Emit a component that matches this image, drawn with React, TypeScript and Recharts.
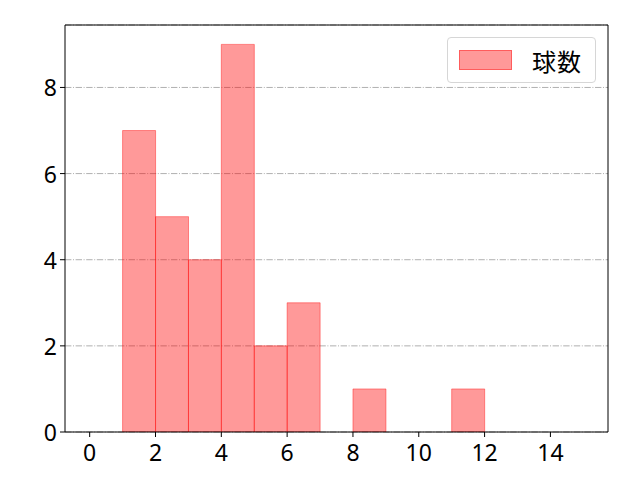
import React from 'react';
import { ComposedChart, Bar, XAxis, YAxis, CartesianGrid, Legend, ReferenceLine } from 'recharts';

// histogram bins (unit width, starting at each value) and the counts in them
const binStarts = [0, 1, 2, 3, 4, 5, 6, 7, 8, 9, 10, 11, 12, 13, 14];
const counts = [0, 7, 5, 4, 9, 2, 3, 0, 1, 0, 0, 1, 0, 0, 0];
const xTicks = [0, 2, 4, 6, 8, 10, 12, 14];
const yTicks = [0, 2, 4, 6, 8];
const seriesName = '球数';

const X_DOMAIN: [number, number] = [-0.75, 15.75];
const Y_DOMAIN: [number, number] = [0, 9.45];

const data = binStarts.map((s, i) => ({ mid: s + 0.5, count: counts[i] }));

const FONT = '"Noto Sans", "Noto Sans CJK JP", sans-serif';
const CJK_FONT = '"Noto Sans CJK JP", "Noto Sans", sans-serif';
const TICK_SIZE = 23;

const XTick = (props: any) => {
  const { x, y, payload } = props;
  return (
    <text x={x} y={y + 4} textAnchor="middle" dominantBaseline="hanging" fill="#000" fontSize={TICK_SIZE} fontFamily={FONT}>
      {payload.value}
    </text>
  );
};

const YTick = (props: any) => {
  const { x, y, payload } = props;
  return (
    <text x={x - 3} y={y} textAnchor="end" dominantBaseline="central" fill="#000" fontSize={TICK_SIZE} fontFamily={FONT}>
      {payload.value}
    </text>
  );
};

const LegendBox = () => (
  <div
    style={{
      width: 149,
      height: 46,
      boxSizing: 'border-box',
      border: '1px solid #d6d6d6',
      borderRadius: 4,
      background: 'rgba(255,255,255,0.8)',
      display: 'flex',
      alignItems: 'center',
      fontFamily: CJK_FONT,
      fontSize: 24,
      letterSpacing: 1,
      color: '#000',
    }}
  >
    <div
      style={{
        marginLeft: 11,
        width: 53,
        height: 20,
        boxSizing: 'border-box',
        background: 'rgba(255,0,0,0.4)',
        border: '1px solid rgba(255,0,0,0.4)',
      }}
    />
    <span style={{ marginLeft: 20 }}>{seriesName}</span>
  </div>
);

const App: React.FC = () => {
  return (
    <div style={{ position: 'absolute', left: 0, top: 0, width: 640, height: 480, background: '#fff' }}>
      <ComposedChart
        width={640}
        height={480}
        data={data}
        margin={{ top: 25, right: 32, bottom: 0, left: 5 }}
        barCategoryGap={0}
        barGap={0}
      >
        <CartesianGrid
          horizontal
          vertical={false}
          stroke="#b0b0b0"
          strokeDasharray="6.4 1.6 1 1.6"
        />
        <XAxis
          dataKey="mid"
          type="number"
          domain={X_DOMAIN}
          ticks={xTicks}
          interval={0}
          height={48}
          tickSize={5}
          tickMargin={0}
          axisLine={{ stroke: '#000' }}
          tickLine={{ stroke: '#000' }}
          tick={<XTick />}
          allowDataOverflow
        />
        <YAxis
          type="number"
          domain={Y_DOMAIN}
          ticks={yTicks}
          interval={0}
          width={60}
          tickSize={5}
          tickMargin={0}
          axisLine={{ stroke: '#000' }}
          tickLine={{ stroke: '#000' }}
          tick={<YTick />}
          allowDataOverflow
        />
        <Bar
          dataKey="count"
          name={seriesName}
          fill="#ff0000"
          fillOpacity={0.4}
          stroke="#ff0000"
          strokeOpacity={0.4}
          strokeWidth={1}
          isAnimationActive={false}
        />
        {/* top and right frame of the plot area */}
        <ReferenceLine y={Y_DOMAIN[1]} stroke="#000" strokeWidth={1} ifOverflow="visible" />
        <ReferenceLine x={X_DOMAIN[1]} stroke="#000" strokeWidth={1} ifOverflow="visible" />
        <Legend
          verticalAlign="middle"
          align="center"
          content={() => <LegendBox />}
          wrapperStyle={{ position: 'absolute', top: 37, left: 447, width: 149, height: 46 }}
        />
      </ComposedChart>
    </div>
  );
};

export default App;
